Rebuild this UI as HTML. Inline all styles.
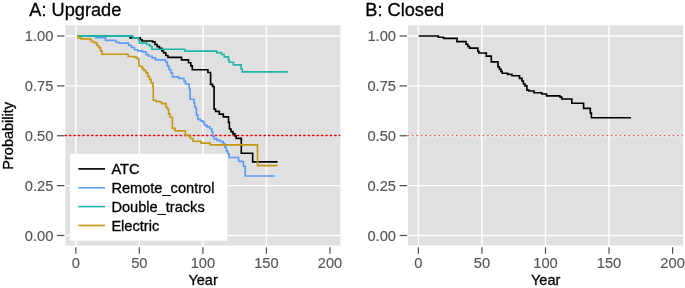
<!DOCTYPE html>
<html><head><meta charset="utf-8"><title>Survival curves</title>
<style>html,body{margin:0;padding:0;background:#fff}svg{display:block;will-change:transform}text{font-family:"Liberation Sans",sans-serif;paint-order:stroke;stroke-width:0.3px}text.tl{stroke-width:0.15px}</style>
</head><body>
<svg width="685" height="288" viewBox="0 0 685 288" font-family="'Liberation Sans', sans-serif">
<rect width="685" height="288" fill="#fff"/>
<rect x="65.40" y="25.30" width="275.00" height="220.20" fill="#E0E0E0"/>
<line x1="65.40" x2="340.40" y1="235.50" y2="235.50" stroke="#FFFFFF" stroke-width="1.45"/>
<line x1="65.40" x2="340.40" y1="185.62" y2="185.62" stroke="#FFFFFF" stroke-width="1.45"/>
<line x1="65.40" x2="340.40" y1="85.88" y2="85.88" stroke="#FFFFFF" stroke-width="1.45"/>
<line x1="65.40" x2="340.40" y1="36.00" y2="36.00" stroke="#FFFFFF" stroke-width="1.45"/>
<line x1="75.80" x2="75.80" y1="25.30" y2="245.50" stroke="#FFFFFF" stroke-width="1.45"/>
<line x1="139.35" x2="139.35" y1="25.30" y2="245.50" stroke="#FFFFFF" stroke-width="1.45"/>
<line x1="202.90" x2="202.90" y1="25.30" y2="245.50" stroke="#FFFFFF" stroke-width="1.45"/>
<line x1="266.45" x2="266.45" y1="25.30" y2="245.50" stroke="#FFFFFF" stroke-width="1.45"/>
<line x1="57.00" x2="64.40" y1="235.50" y2="235.50" stroke="#4D4D4D" stroke-width="1.2"/>
<text x="53.40" y="240.80" text-anchor="end" class="tl" font-size="14.7" fill="#555555" stroke="#555555">0.00</text>
<line x1="57.00" x2="64.40" y1="185.62" y2="185.62" stroke="#4D4D4D" stroke-width="1.2"/>
<text x="53.40" y="190.93" text-anchor="end" class="tl" font-size="14.7" fill="#555555" stroke="#555555">0.25</text>
<line x1="57.00" x2="64.40" y1="135.75" y2="135.75" stroke="#4D4D4D" stroke-width="1.2"/>
<text x="53.40" y="141.05" text-anchor="end" class="tl" font-size="14.7" fill="#555555" stroke="#555555">0.50</text>
<line x1="57.00" x2="64.40" y1="85.88" y2="85.88" stroke="#4D4D4D" stroke-width="1.2"/>
<text x="53.40" y="91.17" text-anchor="end" class="tl" font-size="14.7" fill="#555555" stroke="#555555">0.75</text>
<line x1="57.00" x2="64.40" y1="36.00" y2="36.00" stroke="#4D4D4D" stroke-width="1.2"/>
<text x="53.40" y="41.30" text-anchor="end" class="tl" font-size="14.7" fill="#555555" stroke="#555555">1.00</text>
<line x1="75.80" x2="75.80" y1="247.30" y2="253.70" stroke="#4D4D4D" stroke-width="1.2"/>
<text x="75.80" y="268.30" text-anchor="middle" class="tl" font-size="14.7" fill="#555555" stroke="#555555">0</text>
<line x1="139.35" x2="139.35" y1="247.30" y2="253.70" stroke="#4D4D4D" stroke-width="1.2"/>
<text x="139.35" y="268.30" text-anchor="middle" class="tl" font-size="14.7" fill="#555555" stroke="#555555">50</text>
<line x1="202.90" x2="202.90" y1="247.30" y2="253.70" stroke="#4D4D4D" stroke-width="1.2"/>
<text x="202.90" y="268.30" text-anchor="middle" class="tl" font-size="14.7" fill="#555555" stroke="#555555">100</text>
<line x1="266.45" x2="266.45" y1="247.30" y2="253.70" stroke="#4D4D4D" stroke-width="1.2"/>
<text x="266.45" y="268.30" text-anchor="middle" class="tl" font-size="14.7" fill="#555555" stroke="#555555">150</text>
<line x1="330.00" x2="330.00" y1="247.30" y2="253.70" stroke="#4D4D4D" stroke-width="1.2"/>
<text x="330.00" y="268.30" text-anchor="middle" class="tl" font-size="14.7" fill="#555555" stroke="#555555">200</text>
<line x1="65.10" x2="339.70" y1="135.55" y2="135.55" stroke="#F00000" stroke-width="1.4" stroke-dasharray="1.35 3.07" stroke-linecap="round"/>
<path d="M129.20 36.00 H130.10 V37.90 H140.20 V39.60 H142.00 V41.00 H152.50 V41.90 H155.00 V44.50 H157.20 V46.60 H159.50 V48.40 H161.80 V51.00 H163.60 V52.80 H165.80 V55.50 H168.00 V57.40 H181.50 V59.90 H188.50 V62.70 H190.80 V65.80 H192.30 V69.70 H207.90 V72.50 H210.60 V84.40 H212.60 V86.50 H214.10 V109.10 H215.50 V111.30 H219.30 V114.10 H223.30 V116.80 H228.50 V122.40 H229.40 V129.00 H231.00 V131.60 H233.00 V133.80 H234.80 V135.80 H236.20 V138.30 H241.30 V153.20 H252.65 V161.90 H277.60" fill="none" stroke="#000000" stroke-width="1.65" stroke-linejoin="miter"/>
<path d="M94.60 36.00 H95.80 V37.60 H105.50 V40.40 H116.00 V42.20 H119.00 V43.10 H128.60 V45.30 H131.50 V47.50 H134.50 V49.70 H138.00 V50.90 H142.50 V51.90 H146.00 V54.60 H148.50 V56.20 H152.00 V57.80 H155.50 V59.80 H165.60 V62.00 H167.30 V66.10 H169.00 V69.50 H170.80 V73.00 H172.50 V76.80 H178.60 V78.40 H184.00 V81.40 H185.50 V84.00 H189.20 V89.00 H190.10 V99.20 H193.90 V102.80 H194.70 V107.20 H196.00 V108.90 H196.40 V114.80 H197.80 V119.40 H200.50 V120.90 H203.00 V122.30 H204.50 V125.40 H207.00 V126.90 H210.00 V128.70 H211.80 V131.90 H212.80 V136.40 H214.20 V138.80 H217.00 V140.40 H220.50 V141.50 H223.20 V143.40 H224.70 V147.20 H226.30 V150.80 H227.60 V153.80 H229.20 V157.45 H238.60 V161.40 H243.45 V166.20 H245.20 V176.00 H275.00" fill="none" stroke="#5F9CF5" stroke-width="1.65" stroke-linejoin="miter"/>
<path d="M77.0 36.0 H132.6" fill="none" stroke="#22B5A9" stroke-width="2.15" stroke-linejoin="miter"/>
<path d="M77.00 36.00 H133.00 V37.90 H138.60 V40.00 H139.40 V43.10 H146.80 V44.50 H149.80 V46.20 H151.90 V49.20 H184.70 V51.10 H216.75 V52.60 H221.60 V54.50 H224.20 V56.80 H228.40 V59.60 H229.20 V62.20 H233.40 V64.80 H241.20 V68.80 H242.20 V71.85 H287.70" fill="none" stroke="#22B5A9" stroke-width="1.65" stroke-linejoin="miter"/>
<path d="M77.00 36.00 H78.20 V37.80 H81.00 V38.90 H89.80 V39.60 H91.50 V41.60 H94.50 V42.90 H96.80 V45.50 H98.80 V47.70 H100.40 V50.80 H102.00 V54.20 H128.20 V56.50 H134.50 V57.30 H137.00 V58.70 H138.90 V66.00 H141.50 V67.20 H142.80 V69.20 H144.20 V70.60 H146.00 V72.80 H147.70 V76.30 H149.40 V79.40 H151.20 V82.90 H152.90 V86.40 H153.30 V100.20 H155.80 V101.50 H160.50 V102.20 H161.60 V103.60 H166.00 V107.20 H167.50 V109.00 H168.60 V113.80 H170.00 V117.20 H172.40 V128.40 H175.10 V130.90 H185.30 V135.10 H188.60 V136.30 H190.50 V138.50 H193.00 V141.20 H201.00 V143.10 H210.20 V144.85 H257.50 V165.55 H277.60" fill="none" stroke="#C49916" stroke-width="1.65" stroke-linejoin="miter"/>
<text x="203.10" y="284.6" text-anchor="middle" font-size="14.5" fill="#000" stroke="#000">Year</text>
<rect x="408.00" y="25.30" width="275.00" height="220.20" fill="#E0E0E0"/>
<line x1="408.00" x2="683.00" y1="235.50" y2="235.50" stroke="#FFFFFF" stroke-width="1.45"/>
<line x1="408.00" x2="683.00" y1="185.62" y2="185.62" stroke="#FFFFFF" stroke-width="1.45"/>
<line x1="408.00" x2="683.00" y1="135.75" y2="135.75" stroke="#FFFFFF" stroke-width="1.45"/>
<line x1="408.00" x2="683.00" y1="85.88" y2="85.88" stroke="#FFFFFF" stroke-width="1.45"/>
<line x1="408.00" x2="683.00" y1="36.00" y2="36.00" stroke="#FFFFFF" stroke-width="1.45"/>
<line x1="418.40" x2="418.40" y1="25.30" y2="245.50" stroke="#FFFFFF" stroke-width="1.45"/>
<line x1="481.95" x2="481.95" y1="25.30" y2="245.50" stroke="#FFFFFF" stroke-width="1.45"/>
<line x1="545.50" x2="545.50" y1="25.30" y2="245.50" stroke="#FFFFFF" stroke-width="1.45"/>
<line x1="609.05" x2="609.05" y1="25.30" y2="245.50" stroke="#FFFFFF" stroke-width="1.45"/>
<line x1="399.60" x2="407.00" y1="235.50" y2="235.50" stroke="#4D4D4D" stroke-width="1.2"/>
<text x="396.00" y="240.80" text-anchor="end" class="tl" font-size="14.7" fill="#555555" stroke="#555555">0.00</text>
<line x1="399.60" x2="407.00" y1="185.62" y2="185.62" stroke="#4D4D4D" stroke-width="1.2"/>
<text x="396.00" y="190.93" text-anchor="end" class="tl" font-size="14.7" fill="#555555" stroke="#555555">0.25</text>
<line x1="399.60" x2="407.00" y1="135.75" y2="135.75" stroke="#4D4D4D" stroke-width="1.2"/>
<text x="396.00" y="141.05" text-anchor="end" class="tl" font-size="14.7" fill="#555555" stroke="#555555">0.50</text>
<line x1="399.60" x2="407.00" y1="85.88" y2="85.88" stroke="#4D4D4D" stroke-width="1.2"/>
<text x="396.00" y="91.17" text-anchor="end" class="tl" font-size="14.7" fill="#555555" stroke="#555555">0.75</text>
<line x1="399.60" x2="407.00" y1="36.00" y2="36.00" stroke="#4D4D4D" stroke-width="1.2"/>
<text x="396.00" y="41.30" text-anchor="end" class="tl" font-size="14.7" fill="#555555" stroke="#555555">1.00</text>
<line x1="418.40" x2="418.40" y1="247.30" y2="253.70" stroke="#4D4D4D" stroke-width="1.2"/>
<text x="418.40" y="268.30" text-anchor="middle" class="tl" font-size="14.7" fill="#555555" stroke="#555555">0</text>
<line x1="481.95" x2="481.95" y1="247.30" y2="253.70" stroke="#4D4D4D" stroke-width="1.2"/>
<text x="481.95" y="268.30" text-anchor="middle" class="tl" font-size="14.7" fill="#555555" stroke="#555555">50</text>
<line x1="545.50" x2="545.50" y1="247.30" y2="253.70" stroke="#4D4D4D" stroke-width="1.2"/>
<text x="545.50" y="268.30" text-anchor="middle" class="tl" font-size="14.7" fill="#555555" stroke="#555555">100</text>
<line x1="609.05" x2="609.05" y1="247.30" y2="253.70" stroke="#4D4D4D" stroke-width="1.2"/>
<text x="609.05" y="268.30" text-anchor="middle" class="tl" font-size="14.7" fill="#555555" stroke="#555555">150</text>
<line x1="672.60" x2="672.60" y1="247.30" y2="253.70" stroke="#4D4D4D" stroke-width="1.2"/>
<text x="672.60" y="268.30" text-anchor="middle" class="tl" font-size="14.7" fill="#555555" stroke="#555555">200</text>
<line x1="407.70" x2="682.30" y1="135.55" y2="135.55" stroke="#EE6A64" stroke-width="1.25" stroke-dasharray="1.2 3.22" stroke-linecap="round"/>
<path d="M418.60 36.00 H438.30 V37.20 H443.60 V38.30 H457.00 V41.60 H466.00 V44.20 H467.80 V46.40 H469.50 V48.10 H477.80 V51.20 H478.90 V53.00 H486.30 V56.10 H491.30 V61.80 H498.00 V66.90 H499.40 V69.10 H500.90 V71.30 H502.20 V73.20 H507.60 V74.30 H512.00 V75.70 H519.50 V78.30 H522.00 V81.00 H523.40 V84.00 H525.00 V85.90 H526.90 V90.10 H529.00 V91.00 H534.00 V92.70 H541.80 V94.00 H546.50 V95.80 H560.00 V97.10 H561.80 V99.00 H571.80 V103.20 H583.60 V108.30 H590.30 V113.10 H591.40 V117.70 H630.90" fill="none" stroke="#000000" stroke-width="1.65" stroke-linejoin="miter"/>
<text x="545.70" y="284.6" text-anchor="middle" font-size="14.5" fill="#000" stroke="#000">Year</text>
<text x="29.3" y="16.2" font-size="18.2" fill="#000" stroke="#000">A: Upgrade</text>
<text x="365.30" y="16.2" font-size="18.2" fill="#000" stroke="#000">B: Closed</text>
<text transform="translate(12.5,135.8) rotate(-90)" text-anchor="middle" font-size="14.5" fill="#000" stroke="#000">Probability</text>
<rect x="70.1" y="153.8" width="157.3" height="86.9" fill="#fff"/>
<line x1="78.4" x2="105" y1="168.90" y2="168.90" stroke="#000000" stroke-width="1.65"/>
<text x="111.4" y="174.10" font-size="14.6" fill="#000" stroke="#000">ATC</text>
<line x1="78.4" x2="105" y1="187.75" y2="187.75" stroke="#5F9CF5" stroke-width="1.65"/>
<text x="111.4" y="192.95" font-size="14.6" fill="#000" stroke="#000">Remote_control</text>
<line x1="78.4" x2="105" y1="206.60" y2="206.60" stroke="#22B5A9" stroke-width="1.65"/>
<text x="111.4" y="211.80" font-size="14.6" fill="#000" stroke="#000">Double_tracks</text>
<line x1="78.4" x2="105" y1="225.45" y2="225.45" stroke="#C49916" stroke-width="1.65"/>
<text x="111.4" y="230.65" font-size="14.6" fill="#000" stroke="#000">Electric</text>
</svg>
</body></html>
